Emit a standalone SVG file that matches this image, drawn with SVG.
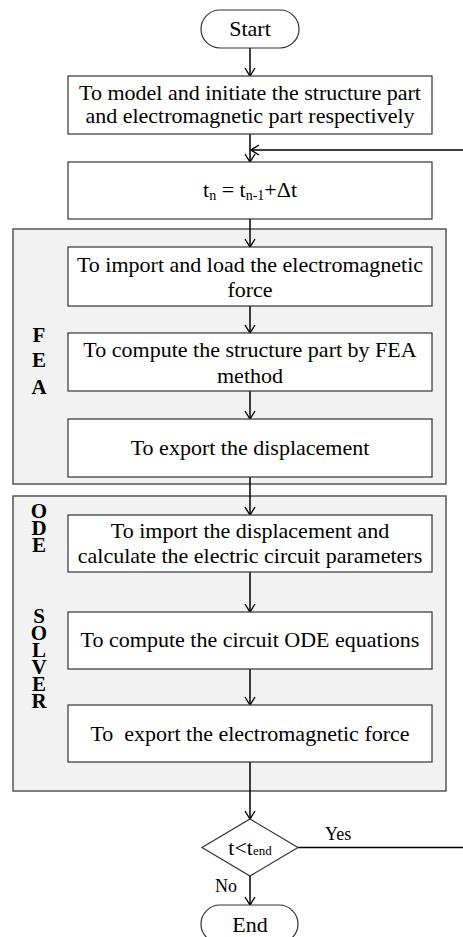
<svg xmlns="http://www.w3.org/2000/svg" width="463" height="937" viewBox="0 0 463 937">
<style>
.t{font-family:"Liberation Serif","Times New Roman",serif;font-size:22px;fill:#000;text-anchor:middle}
.b{font-family:"Liberation Serif","Times New Roman",serif;font-size:21px;font-weight:bold;fill:#000;text-anchor:middle}
.s{font-family:"Liberation Serif","Times New Roman",serif;font-size:18px;fill:#000}
.box{fill:#fff;stroke:#333;stroke-width:1.2}
.grp{fill:#f2f2f2;stroke:#555;stroke-width:1.5}
.c{fill:none;stroke:#000;stroke-width:1.5}
</style>
<defs>
<marker id="ah" markerUnits="userSpaceOnUse" markerWidth="10" markerHeight="12" viewBox="0 0 10 12" refX="9" refY="6" orient="auto">
<path d="M1,1 L9,6 L1,11" fill="none" stroke="#000" stroke-width="1.4"/>
</marker>
</defs>
<rect width="463" height="937" fill="#fff"/>
<g id="fea-group"><rect class="grp" x="13" y="229" width="433" height="255"/>
<text class="b" x="39" y="342">F<tspan x="39" dy="25">E</tspan><tspan x="39" dy="27">A</tspan></text></g>
<g id="ode-group"><rect class="grp" x="13" y="496" width="433" height="295"/>
<text class="b" x="39" y="518">O<tspan x="39" dy="17">D</tspan><tspan x="39" dy="17">E</tspan><tspan x="39" dy="71">S</tspan><tspan x="39" dy="17">O</tspan><tspan x="39" dy="17">L</tspan><tspan x="39" dy="17">V</tspan><tspan x="39" dy="17">E</tspan><tspan x="39" dy="17">R</tspan></text></g>
<g id="connectors">
<line class="c" x1="250" y1="48" x2="250" y2="76" marker-end="url(#ah)"/>
<line class="c" x1="250" y1="134" x2="250" y2="162" marker-end="url(#ah)"/>
<line class="c" x1="250" y1="219" x2="250" y2="247" marker-end="url(#ah)"/>
<line class="c" x1="250" y1="306" x2="250" y2="333" marker-end="url(#ah)"/>
<line class="c" x1="250" y1="391" x2="250" y2="419" marker-end="url(#ah)"/>
<line class="c" x1="250" y1="477" x2="250" y2="515" marker-end="url(#ah)"/>
<line class="c" x1="250" y1="572" x2="250" y2="612" marker-end="url(#ah)"/>
<line class="c" x1="250" y1="669" x2="250" y2="705" marker-end="url(#ah)"/>
<line class="c" x1="250" y1="762" x2="250" y2="819" marker-end="url(#ah)"/>
<line class="c" x1="250" y1="876" x2="250" y2="905" marker-end="url(#ah)"/>
<path class="c" d="M298,847.5 H465 V150 H251" marker-end="url(#ah)"/>
<text class="s" x="325" y="840">Yes</text>
<text class="s" x="215" y="892">No</text>
</g>
<g id="start"><rect class="box" x="201" y="10" width="98" height="38" rx="19"/><text class="t" x="250" y="36">Start</text></g>
<g id="init"><rect class="box" x="68" y="76" width="364" height="58"/>
<text class="t" x="250" y="100">To model and initiate the structure part</text>
<text class="t" x="250" y="123">and electromagnetic part respectively</text></g>
<g id="step"><rect class="box" x="68" y="162" width="364" height="57"/>
<text class="t" x="250" y="197">t<tspan font-size="14" dy="3">n</tspan><tspan dy="-3"> = t</tspan><tspan font-size="14" dy="3">n-1</tspan><tspan dy="-3">+Δt</tspan></text></g>
<g id="import-force"><rect class="box" x="68" y="247" width="364" height="59"/>
<text class="t" x="250" y="272">To import and load the electromagnetic</text>
<text class="t" x="250" y="297">force</text></g>
<g id="compute-fea"><rect class="box" x="68" y="333" width="364" height="58"/>
<text class="t" x="250" y="357">To compute the structure part by FEA</text>
<text class="t" x="250" y="383">method</text></g>
<g id="export-disp"><rect class="box" x="68" y="419" width="364" height="58"/>
<text class="t" x="250" y="455">To export the displacement</text></g>
<g id="import-disp"><rect class="box" x="68" y="515" width="364" height="57"/>
<text class="t" x="250" y="538">To import the displacement and</text>
<text class="t" x="250" y="563">calculate the electric circuit parameters</text></g>
<g id="compute-ode"><rect class="box" x="68" y="612" width="364" height="57"/>
<text class="t" x="250" y="647">To compute the circuit ODE equations</text></g>
<g id="export-force"><rect class="box" x="68" y="705" width="364" height="57"/>
<text class="t" x="250" y="741" xml:space="preserve">To  export the electromagnetic force</text></g>
<g id="decision"><polygon class="box" points="250,819 298,847.5 250,876 202,847.5"/>
<text class="t" x="250" y="855" font-size="20">t&lt;t<tspan font-size="13">end</tspan></text></g>
<g id="end"><rect class="box" x="201" y="905" width="97" height="38" rx="19"/><text class="t" x="250" y="932">End</text></g>
</svg>
